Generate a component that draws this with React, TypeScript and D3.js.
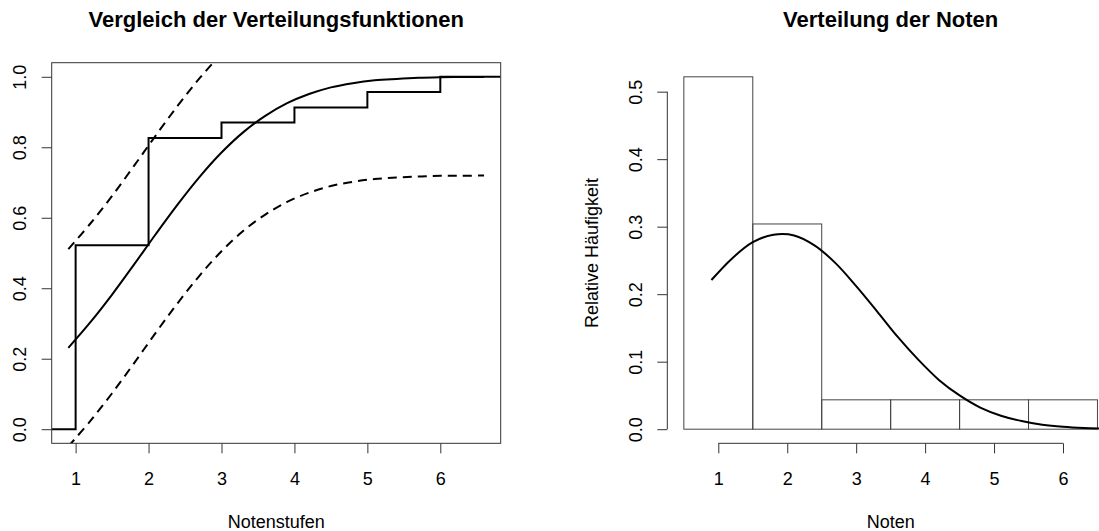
import React, { useRef, useEffect } from 'react';
import * as d3 from 'd3';

// grades and their observed frequencies
const grades = [1, 2, 3, 4, 5, 6];
const ecdfValues = [0.522, 0.826, 0.870, 0.913, 0.957, 1.0];
const histBreaks = [0.5, 1.5, 2.5, 3.5, 4.5, 5.5, 6.5];
const relFreq = [0.522, 0.304, 0.0435, 0.0435, 0.0435, 0.0435];

const curveX = [0.9, 1.2, 1.5, 1.8, 2.1, 2.4, 2.7, 3.0, 3.3, 3.6, 3.9, 4.2, 4.5, 4.8, 5.1, 5.4, 5.7, 6.0, 6.3, 6.6];
const normalCdf = [0.231, 0.303, 0.382, 0.467, 0.554, 0.638, 0.716, 0.785, 0.843, 0.889, 0.925, 0.951, 0.970, 0.982, 0.990, 0.994, 0.997, 0.9985, 0.9993, 0.9997];
const upperBand = [0.511, 0.583, 0.662, 0.747, 0.834, 0.918, 0.996, 1.065, 1.123, 1.169, 1.205, 1.231, 1.250, 1.262, 1.270, 1.274, 1.277, 1.279, 1.279, 1.280];
const lowerBand = [-0.049, 0.023, 0.102, 0.187, 0.274, 0.358, 0.436, 0.505, 0.563, 0.609, 0.645, 0.671, 0.690, 0.702, 0.710, 0.714, 0.717, 0.719, 0.719, 0.720];
const normalDensity = [0.221, 0.253, 0.277, 0.288, 0.287, 0.272, 0.246, 0.212, 0.175, 0.137, 0.103, 0.073, 0.050, 0.032, 0.020, 0.012, 0.0067, 0.0036, 0.0018, 0.0009];

const yTicksLeft = [0, 0.2, 0.4, 0.6, 0.8, 1.0];
const yTicksRight = [0, 0.1, 0.2, 0.3, 0.4, 0.5];

const FONT = '"Liberation Sans", Arial, sans-serif';

export default function App() {
    const svgRef = useRef<SVGSVGElement>(null);

    useEffect(() => {
        const svg = d3.select(svgRef.current);
        svg.selectAll('*').remove();
        svg.style('font-family', FONT);

        // ---------- left: ECDF vs normal CDF ----------
        const xL = d3.scaleLinear().domain([0.672, 6.828]).range([51.7, 500.7]);
        const yL = d3.scaleLinear().domain([-0.04, 1.04]).range([443.3, 62.7]);

        svg.append('clipPath').attr('id', 'clipL')
            .append('rect')
            .attr('x', 51.7).attr('y', 62.7)
            .attr('width', 449).attr('height', 380.6);

        const plotL = svg.append('g').attr('clip-path', 'url(#clipL)');

        const stepPts: [number, number][] = [[0.672, 0]];
        grades.forEach((g, i) => stepPts.push([g, ecdfValues[i]]));
        stepPts.push([6.828, 1]);

        plotL.append('path')
            .attr('d', d3.line<[number, number]>()
                .x(d => xL(d[0])).y(d => yL(d[1]))
                .curve(d3.curveStepAfter)(stepPts))
            .attr('fill', 'none').attr('stroke', '#000').attr('stroke-width', 2);

        const lineL = d3.line<number>()
            .x((d, i) => xL(curveX[i])).y(d => yL(d))
            .curve(d3.curveCatmullRom);

        plotL.append('path').attr('d', lineL(normalCdf))
            .attr('fill', 'none').attr('stroke', '#000').attr('stroke-width', 2);

        [upperBand, lowerBand].forEach(band => {
            plotL.append('path').attr('d', lineL(band))
                .attr('fill', 'none').attr('stroke', '#000').attr('stroke-width', 2)
                .attr('stroke-dasharray', '9,6');
        });

        svg.append('rect')
            .attr('x', 51.7).attr('y', 62.7)
            .attr('width', 449).attr('height', 380.6)
            .attr('fill', 'none').attr('stroke', '#333').attr('stroke-width', 1);

        const xAxisL = svg.append('g')
            .attr('transform', 'translate(0,443.3)')
            .call(d3.axisBottom(xL).tickValues(grades).tickSize(10).tickFormat(d3.format('d')));
        xAxisL.select('.domain').remove();

        const yAxisL = svg.append('g')
            .attr('transform', 'translate(51.7,0)')
            .call(d3.axisLeft(yL).tickValues(yTicksLeft).tickSize(10).tickFormat(d3.format('.1f')));
        yAxisL.select('.domain').remove();

        // ---------- right: histogram with normal density ----------
        const xR = d3.scaleLinear().domain([0.26, 6.74]).range([667.3, 1114]);
        const yR = d3.scaleLinear().domain([-0.0209, 0.5429]).range([443.3, 62.7]);

        svg.append('g').selectAll('rect')
            .data(relFreq)
            .join('rect')
            .attr('x', (d, i) => xR(histBreaks[i]))
            .attr('width', (d, i) => xR(histBreaks[i + 1]) - xR(histBreaks[i]))
            .attr('y', d => yR(d))
            .attr('height', d => yR(0) - yR(d))
            .attr('fill', 'none').attr('stroke', '#444').attr('stroke-width', 1);

        svg.append('path')
            .attr('d', d3.line<number>()
                .x((d, i) => xR(curveX[i])).y(d => yR(d))
                .curve(d3.curveCatmullRom)(normalDensity))
            .attr('fill', 'none').attr('stroke', '#000').attr('stroke-width', 2);

        const xAxisR = svg.append('g')
            .attr('transform', 'translate(0,443.3)')
            .call(d3.axisBottom(xR).tickValues(grades).tickSize(10).tickFormat(d3.format('d')));
        xAxisR.select('.domain').remove();
        xAxisR.append('line')
            .attr('x1', xR(1)).attr('x2', xR(6))
            .attr('stroke', '#333');

        const yAxisR = svg.append('g')
            .attr('transform', 'translate(667.3,0)')
            .call(d3.axisLeft(yR).tickValues(yTicksRight).tickSize(10).tickFormat(d3.format('.1f')));
        yAxisR.select('.domain').remove();
        yAxisR.append('line')
            .attr('y1', yR(0)).attr('y2', yR(0.5))
            .attr('stroke', '#333');

        // ---------- axis styling ----------
        [xAxisL, xAxisR].forEach(ax => {
            ax.selectAll('.tick line').attr('stroke', '#333');
            ax.selectAll('.tick text')
                .attr('y', 41.3).attr('dy', 0)
                .attr('fill', '#000')
                .style('font-size', '18px').style('font-family', FONT);
        });
        [yAxisL, yAxisR].forEach(ax => {
            ax.selectAll('.tick line').attr('stroke', '#333');
            ax.selectAll('.tick text')
                .attr('x', 0).attr('dy', 0)
                .attr('text-anchor', 'middle')
                .attr('transform', 'translate(-25.3,0) rotate(-90)')
                .attr('fill', '#000')
                .style('font-size', '18px').style('font-family', FONT);
        });

        // ---------- titles and labels ----------
        const titles = [
            { x: 276.2, text: 'Vergleich der Verteilungsfunktionen' },
            { x: 890.7, text: 'Verteilung der Noten' },
        ];
        svg.selectAll('.title')
            .data(titles)
            .join('text')
            .attr('class', 'title')
            .attr('x', d => d.x).attr('y', 27)
            .attr('text-anchor', 'middle')
            .style('font-size', '22px').style('font-weight', 'bold')
            .text(d => d.text);

        const xlabs = [
            { x: 276.2, text: 'Notenstufen' },
            { x: 890.7, text: 'Noten' },
        ];
        svg.selectAll('.xlab')
            .data(xlabs)
            .join('text')
            .attr('class', 'xlab')
            .attr('x', d => d.x).attr('y', 527.5)
            .attr('text-anchor', 'middle')
            .style('font-size', '18px')
            .text(d => d.text);

        svg.append('text')
            .attr('transform', 'translate(598,253) rotate(-90)')
            .attr('text-anchor', 'middle')
            .style('font-size', '18px')
            .text('Relative Häufigkeit');
    }, []);

    return (
        <svg ref={svgRef} width={1099} height={531}
            style={{ position: 'absolute', left: 0, top: 0, background: '#fff' }} />
    );
}
